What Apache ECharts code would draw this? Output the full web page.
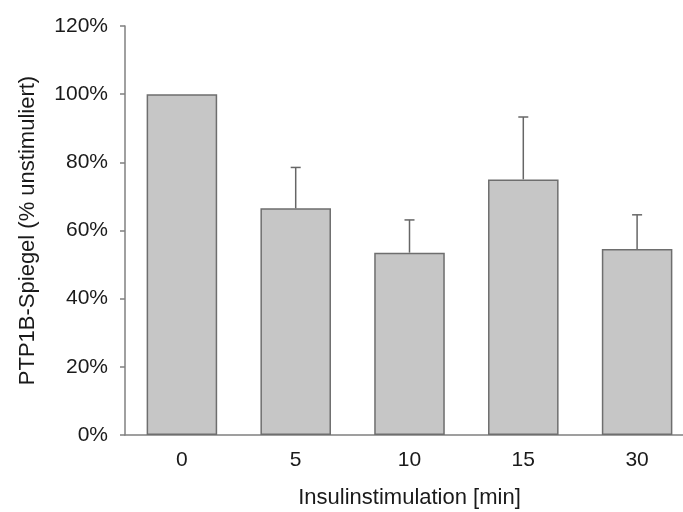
<!DOCTYPE html>
<html>
<head>
<meta charset="utf-8">
<script src="https://cdn.jsdelivr.net/npm/echarts@6/dist/echarts.min.js"></script>
<style>
html,body{margin:0;padding:0;background:#fff;overflow:hidden;width:683px;height:512px;}
#c{width:694px;height:512px;}
</style>
</head>
<body>
<div id="c"></div>
<script>
var categories = ['0', '5', '10', '15', '30'];
var values = [100, 66.5, 53.5, 75.0, 54.6];
var errors = [0, 12.0, 9.6, 18.3, 10.0];
var yTicks = [0, 20, 40, 60, 80, 100, 120];

var errData = [];
for (var i = 0; i < categories.length; i++) {
  if (errors[i] > 0) errData.push([i, values[i], errors[i]]);
}

var chart = echarts.init(document.getElementById('c'));
var font = 'Liberation Sans, Arial, sans-serif';
chart.setOption({
  animation: false,
  backgroundColor: '#ffffff',
  grid: { left: 125, right: 0, top: 26, bottom: 77, outerBoundsMode: 'none' },
  xAxis: {
    type: 'category',
    data: categories,
    name: 'Insulinstimulation [min]',
    nameLocation: 'middle',
    nameGap: 52,
    nameTextStyle: { fontFamily: font, fontSize: 22, color: '#1a1a1a' },
    axisLine: { lineStyle: { color: '#808080', width: 1.5 } },
    axisTick: { show: false },
    axisLabel: { fontFamily: font, fontSize: 21, color: '#1a1a1a', margin: 15 }
  },
  yAxis: {
    type: 'value',
    min: yTicks[0],
    max: yTicks[yTicks.length - 1],
    interval: 20,
    name: 'PTP1B-Spiegel (% unstimuliert)',
    nameLocation: 'middle',
    nameGap: 86,
    nameTextStyle: { fontFamily: font, fontSize: 22, color: '#1a1a1a' },
    axisLine: { show: true, lineStyle: { color: '#808080', width: 1.5 } },
    axisTick: { show: true, inside: false, length: 5, lineStyle: { color: '#808080', width: 1.5 } },
    splitLine: { show: false },
    axisLabel: { fontFamily: font, fontSize: 21, color: '#1a1a1a', margin: 17, formatter: '{value}%' }
  },
  series: [
    {
      type: 'bar',
      data: values,
      barCategoryGap: '38%',
      itemStyle: { color: '#c6c6c6', borderColor: '#6e6e6e', borderWidth: 1.5 }
    },
    {
      type: 'custom',
      data: errData,
      z: 5,
      renderItem: function (params, api) {
        var idx = api.value(0);
        var v = api.value(1);
        var e = api.value(2);
        var p0 = api.coord([idx, v]);
        var p1 = api.coord([idx, v + e]);
        var hw = 5;
        var style = { stroke: '#666666', lineWidth: 1.5 };
        return {
          type: 'group',
          children: [
            { type: 'line', shape: { x1: p0[0], y1: p0[1], x2: p1[0], y2: p1[1] }, style: style },
            { type: 'line', shape: { x1: p1[0] - hw, y1: p1[1], x2: p1[0] + hw, y2: p1[1] }, style: style }
          ]
        };
      }
    }
  ]
});
</script>
</body>
</html>
